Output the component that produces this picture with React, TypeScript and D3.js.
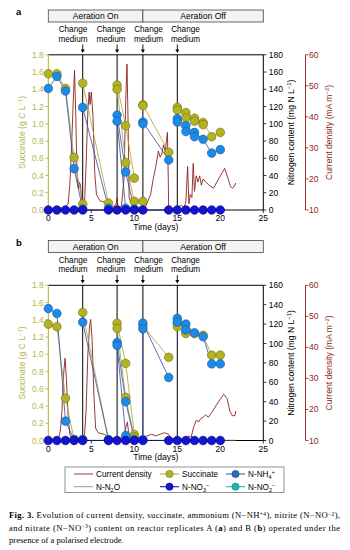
import React from 'react';
import * as d3 from 'd3';

type Pt = [number, number];

const timeTicks = [0, 5, 10, 15, 20, 25];
const succinateTicks = [0, 0.2, 0.4, 0.6, 0.8, 1.0, 1.2, 1.4, 1.6, 1.8];
const nitrogenTicksA = [0, 20, 40, 60, 80, 100, 120, 140, 160, 180];
const nitrogenTicksB = [0, 20, 40, 60, 80, 100, 120, 140, 160];
const currentTicks = [10, 20, 30, 40, 50, 60];
const changeMediumDays = [4, 8, 11, 15];
const aerationBounds = [0, 11, 25];
const aerationLabels = ['Aeration On', 'Aeration Off'];

// Panel a (replicate A)
const succinateA: Pt[][] = [
  [[0, 1.58], [1, 1.58], [2, 1.41], [3, 0.61], [4, 0.07]],
  [[4, 1.47], [7, 0.08]],
  [[8, 1.45], [9, 0.98], [10, 0.37]],
  [[8, 1.40], [9, 0.55], [10, 0.10]],
  [[11, 0.10]],
  [[11, 1.22], [14, 0.67]],
  [[11, 1.21]],
  [[15, 1.19], [16, 1.13], [17, 1.065], [18, 1.015], [19, 0.85], [20, 0.90]],
  [[15, 1.16], [16, 1.07], [17, 1.03], [18, 0.99]],
];
const ammoniumA: Pt[][] = [
  [[0, 141], [1, 155], [2, 138], [3, 48], [4, 1]],
  [[4, 119], [7, 2]],
  [[8, 110], [9, 44], [10, 1]],
  [[8, 103], [9, 2]],
  [[11, 102], [14, 58]],
  [[11, 100]],
  [[15, 106], [16, 98], [17, 90], [18, 82], [19, 66], [20, 70]],
  [[15, 102], [16, 91], [17, 85]],
];
const nitrateA: Pt[] = [
  [0, 0], [1, 0], [2, 0], [3, 0], [4, 0], [7, 0], [8, 0], [9, 0], [10, 0], [11, 0],
  [14, 0], [15, 0], [16, 0], [17, 0], [18, 0], [19, 0], [20, 0],
];
const nitrousA: Pt[] = [[0, 0.3], [4, 0.4], [8, 0.3], [11, 0.2], [15, 0.3], [21.8, 0.4]];
const currentA: Pt[] = [
  [0, 10.3], [0.5, 10.6], [1, 10.9], [1.5, 10.6], [2, 11], [2.3, 12], [2.5, 18], [2.7, 30], [2.9, 45],
  [3.05, 55], [3.2, 40], [3.35, 20], [3.5, 17], [3.6, 19], [3.75, 18], [3.9, 12], [4.0, 10.5],
  [4.2, 11], [4.4, 25], [4.6, 42], [4.75, 48], [4.85, 44], [5.0, 48], [5.2, 40], [5.4, 22],
  [5.6, 15], [6, 13], [6.5, 12.5], [7, 11.5], [7.5, 11], [7.9, 12], [8.0, 14], [8.1, 11],
  [8.5, 11], [8.8, 20], [9.0, 45], [9.15, 57], [9.3, 35], [9.4, 14], [9.7, 11.5], [10, 11],
  [10.5, 11], [11, 10.5], [11.3, 11], [11.6, 13], [11.9, 15], [12.2, 20], [12.5, 24], [12.8, 29],
  [13.0, 27], [13.2, 28], [13.4, 31], [13.6, 29], [13.85, 35], [13.95, 20], [14, 10], [14.5, 10.5],
  [15, 11], [15.5, 11.5], [15.8, 10.5], [16.0, 13], [16.2, 24], [16.35, 12], [16.5, 15], [16.7, 14],
  [16.85, 25], [17.0, 16], [17.2, 21], [17.4, 19], [17.6, 21], [17.8, 18], [18.0, 20], [18.3, 19],
  [18.7, 18], [19.2, 17], [19.8, 20], [20.5, 23.4], [20.8, 21], [21.2, 17.5], [21.4, 17],
  [21.6, 17.5], [21.8, 18.7],
];

// Panel b (replicate B)
const succinateB: Pt[][] = [
  [[0, 1.35], [1, 1.32], [2, 0.49], [3, 0.01], [4, 0.01]],
  [[4, 1.485], [7, 0.01]],
  [[8, 1.36], [9, 0.895], [10, 0.07]],
  [[8, 1.30], [9, 0.50], [10, 0.04]],
  [[11, 1.33], [14, 0.965]],
  [[15, 1.36], [16, 1.26], [17, 1.24], [18, 1.22], [19, 0.99], [20, 0.99]],
  [[15, 1.32], [16, 1.24]],
];
const ammoniumB: Pt[][] = [
  [[0, 136], [1, 131], [2, 20], [3, 1], [4, 1]],
  [[4, 122], [7, 1]],
  [[8, 101], [9, 40], [10, 1]],
  [[8, 98], [9, 5]],
  [[11, 121], [14, 65]],
  [[11, 115], [11, 1]],
  [[15, 126], [16, 120], [17, 111], [18, 107], [19, 79], [20, 79]],
  [[15, 122], [16, 114]],
];
const nitrateB: Pt[] = [
  [0, 0], [1, 0], [2, 0], [3, 0], [4, 0], [7, 0], [8, 0], [9, 0], [10, 0], [11, 0],
  [14, 0], [15, 0], [16, 0], [17, 0], [18, 0], [19, 0], [20, 0],
];
const nitrousB: Pt[] = [[0, 0.3], [4, 0.3], [8, 0.4], [11, 0.3], [15, 0.3], [21.8, 0.3]];
const currentB: Pt[] = [
  [0, 10.2], [0.5, 10.3], [1, 10.5], [1.2, 11], [1.4, 13], [1.6, 20], [1.8, 32], [1.95, 36.5],
  [2.1, 30], [2.3, 18], [2.5, 12], [2.7, 10.5], [3, 10.3], [3.5, 10.5], [4, 10.5], [4.2, 11],
  [4.4, 20], [4.6, 38], [4.8, 47], [4.93, 49], [5.1, 42], [5.3, 25], [5.5, 14], [5.8, 12.5],
  [6.5, 12], [7, 11], [7.5, 10.8], [8, 10.5], [8.5, 10.8], [8.8, 12], [9.0, 14], [9.2, 16],
  [9.35, 12], [9.6, 11], [10, 10.5], [10.5, 11], [11, 10.8], [11.5, 11.5], [12, 12], [12.5, 11.5],
  [13, 12], [13.5, 12.5], [14, 12], [14.3, 10.5], [15, 10.3], [15.5, 10.5], [16, 10.5],
  [16.3, 11.5], [16.6, 11], [16.9, 14.3], [17.2, 16.5], [17.5, 16], [17.7, 17], [18, 17.5],
  [18.3, 18.3], [18.6, 17.5], [19, 19], [19.4, 20.8], [19.8, 22.5], [20.4, 24.9], [20.8, 23.5],
  [21.1, 19.5], [21.4, 18], [21.7, 18], [21.8, 19.5],
];

const SANS = '"Liberation Sans", Arial, sans-serif';
const SERIF = '"Liberation Serif", "Times New Roman", serif';
const OLIVE = '#b3b322';
const OLIVE_TXT = '#b5b54a';
const OLIVE_EDGE = '#6e6e12';
const NH4 = '#1d8ae6';
const NH4_EDGE = '#13579e';
const NO3 = '#1414d4';
const NO3_EDGE = '#00006e';
const NO2 = '#22b4b4';
const CURR = '#8e1f22';
const N2O = '#9a8a8a';

const X0 = 48.3;
const X1 = 263.3;
const TOP = 54.8;
const BOT = 210;
const CUR_X = 305.5;
const R = 4.3;
// horizontal centres of the "Change medium" captions (pixels)
const CHANGE_LABEL_X = [73, 111, 148.5, 185.5];

interface PanelProps {
  dy: number;
  letter: string;
  nMax: number;
  nTicks: number[];
  succ: Pt[][];
  nh4: Pt[][];
  no3: Pt[];
  n2o: Pt[];
  cur: Pt[];
}

function Panel({ dy, letter, nMax, nTicks, succ, nh4, no3, n2o, cur }: PanelProps) {
  const x = d3.scaleLinear().domain([0, 25]).range([X0, X1]);
  const yS = d3.scaleLinear().domain([0, 1.8]).range([BOT, TOP]);
  const yN = d3.scaleLinear().domain([0, nMax]).range([BOT, TOP]);
  const yC = d3.scaleLinear().domain([10, 60]).range([BOT, TOP]);
  const lineS = d3.line<Pt>().x(d => x(d[0])).y(d => yS(d[1]));
  const lineN = d3.line<Pt>().x(d => x(d[0])).y(d => yN(d[1]));
  const lineC = d3.line<Pt>().x(d => x(d[0])).y(d => yC(d[1]));
  const midY = (TOP + BOT) / 2;
  return (
    <g transform={`translate(0,${dy})`}>
      <text x={16} y={15} fontFamily={SANS} fontWeight="bold" fontSize={9.5}>{letter}</text>
      {aerationLabels.map((lab, i) => (
        <g key={lab}>
          <rect x={x(aerationBounds[i])} y={10} width={x(aerationBounds[i + 1]) - x(aerationBounds[i])} height={12}
            fill="#f3f3f3" stroke="#444" strokeWidth={0.8} />
          <text x={(x(aerationBounds[i]) + x(aerationBounds[i + 1])) / 2} y={19.3} textAnchor="middle"
            fontFamily={SANS} fontSize={8.6}>{lab}</text>
        </g>
      ))}
      {changeMediumDays.map((d, i) => (
        <g key={d}>
          <text x={CHANGE_LABEL_X[i]} y={32.3} textAnchor="middle" fontFamily={SANS} fontSize={8.2}>Change</text>
          <text x={CHANGE_LABEL_X[i]} y={41.6} textAnchor="middle" fontFamily={SANS} fontSize={8.2}>medium</text>
          <line x1={x(d)} x2={x(d)} y1={44.5} y2={50} stroke="#000" strokeWidth={0.9} />
          <path d={`M${x(d) - 2},${49.5} L${x(d) + 2},${49.5} L${x(d)},${53} Z`} fill="#000" />
          <line x1={x(d)} x2={x(d)} y1={TOP} y2={BOT} stroke="#000" strokeWidth={1} />
        </g>
      ))}
      {/* frame */}
      <line x1={X0} x2={X1} y1={TOP} y2={TOP} stroke="#000" strokeWidth={1} />
      <line x1={X0} x2={X1} y1={BOT} y2={BOT} stroke="#000" strokeWidth={1} />
      <line x1={X0} x2={X0} y1={TOP} y2={BOT} stroke={OLIVE} strokeWidth={1} />
      <line x1={X1} x2={X1} y1={TOP} y2={BOT} stroke="#000" strokeWidth={1} />
      {/* x axis */}
      {timeTicks.map(t => (
        <g key={t}>
          <line x1={x(t)} x2={x(t)} y1={BOT} y2={BOT + 3} stroke="#000" strokeWidth={0.8} />
          <text x={x(t)} y={BOT + 11} textAnchor="middle" fontFamily={SANS} fontSize={8.5}>{t}</text>
        </g>
      ))}
      <text x={(X0 + X1) / 2} y={BOT + 19.5} textAnchor="middle" fontFamily={SANS} fontSize={8.6}>Time (days)</text>
      {/* left axis */}
      {succinateTicks.map(t => (
        <g key={t}>
          <line x1={X0 - 3} x2={X0} y1={yS(t)} y2={yS(t)} stroke={OLIVE} strokeWidth={0.8} />
          <text x={X0 - 4.5} y={yS(t) + 3} textAnchor="end" fontFamily={SANS} fontSize={8.5} fill={OLIVE_TXT}>{t.toFixed(1)}</text>
        </g>
      ))}
      <text transform={`translate(24.5,${midY}) rotate(-90)`} textAnchor="middle" fontFamily={SANS} fontSize={8.6} fill={OLIVE_TXT}>
        Succinate (g C L<tspan dy={-3} fontSize={6}>−1</tspan><tspan dy={3}>)</tspan>
      </text>
      {/* right nitrogen axis */}
      {nTicks.map(t => (
        <g key={t}>
          <line x1={X1} x2={X1 + 3} y1={yN(t)} y2={yN(t)} stroke="#000" strokeWidth={0.8} />
          <text x={X1 + 5.5} y={yN(t) + 3} fontFamily={SANS} fontSize={8.5}>{t}</text>
        </g>
      ))}
      <text transform={`translate(293.5,${midY}) rotate(-90)`} textAnchor="middle" fontFamily={SANS} fontSize={8.6}>
        Nitrogen content (mg N L<tspan dy={-3} fontSize={6}>−1</tspan><tspan dy={3}>)</tspan>
      </text>
      {/* current axis */}
      <line x1={CUR_X} x2={CUR_X} y1={yC(60)} y2={yC(10)} stroke={CURR} strokeWidth={0.9} />
      {currentTicks.map(t => (
        <g key={t}>
          <line x1={CUR_X} x2={CUR_X + 3} y1={yC(t)} y2={yC(t)} stroke={CURR} strokeWidth={0.8} />
          <text x={CUR_X + 3.5} y={yC(t) + 3} fontFamily={SANS} fontSize={8.5} fill={CURR}>{t}</text>
        </g>
      ))}
      <text transform={`translate(332,${midY}) rotate(-90)`} textAnchor="middle" fontFamily={SANS} fontSize={8.6} fill={CURR}>
        Current density (mA m<tspan dy={-3} fontSize={6}>−2</tspan><tspan dy={3}>)</tspan>
      </text>
      {/* data lines */}
      <path d={lineN(n2o) || ''} fill="none" stroke={N2O} strokeWidth={0.7} />
      <path d={lineC(cur) || ''} fill="none" stroke={CURR} strokeWidth={0.9} strokeLinejoin="round" />
      {succ.map((seg, i) => (
        <path key={'sl' + i} d={lineS(seg) || ''} fill="none" stroke="#a3a335" strokeWidth={0.8} />
      ))}
      {nh4.map((seg, i) => (
        <path key={'nl' + i} d={lineN(seg) || ''} fill="none" stroke="#3548a8" strokeWidth={0.8} />
      ))}
      <path d={lineN(no3) || ''} fill="none" stroke="#10107a" strokeWidth={0.9} />
      {succ.flat().map((p, i) => (
        <circle key={'sc' + i} cx={x(p[0])} cy={yS(p[1])} r={R} fill={OLIVE} stroke={OLIVE_EDGE} strokeWidth={0.6} />
      ))}
      {nh4.flat().map((p, i) => (
        <circle key={'nc' + i} cx={x(p[0])} cy={yN(p[1])} r={R} fill={NH4} stroke={NH4_EDGE} strokeWidth={0.6} />
      ))}
      {no3.map((p, i) => (
        <circle key={'oc' + i} cx={x(p[0])} cy={yN(p[1])} r={R} fill={NO3} stroke={NO3_EDGE} strokeWidth={0.6} />
      ))}
    </g>
  );
}

const legendItems = [
  { label: 'Current density', color: CURR, marker: false, col: 0, row: 0 },
  { label: 'Succinate', color: OLIVE, edge: OLIVE_EDGE, marker: true, col: 1, row: 0 },
  { label: 'N-NH', sub: '4', sup: '+', color: '#2f6db8', edge: '#143f78', marker: true, col: 2, row: 0 },
  { label: 'N-N', sub: '2', after: 'O', color: N2O, marker: false, col: 0, row: 1 },
  { label: 'N-NO', sub: '3', sup: '−', color: NO3, edge: NO3_EDGE, marker: true, col: 1, row: 1 },
  { label: 'N-NO', sub: '2', sup: '−', color: NO2, edge: '#137a7a', marker: true, col: 2, row: 1 },
];
const legendCols = [74, 160, 226];
const legendRows = [474, 486.7];

export default function App() {
  return (
    <svg width={350} height={550} style={{ position: 'absolute', left: 0, top: 0, background: '#fff' }}>
      <rect x={0} y={0} width={350} height={550} fill="#fff" />
      <Panel dy={0} letter="a" nMax={180} nTicks={nitrogenTicksA} succ={succinateA} nh4={ammoniumA} no3={nitrateA} n2o={nitrousA} cur={currentA} />
      <Panel dy={230.5} letter="b" nMax={160} nTicks={nitrogenTicksB} succ={succinateB} nh4={ammoniumB} no3={nitrateB} n2o={nitrousB} cur={currentB} />
      {/* legend */}
      <rect x={65} y={467} width={219} height={25.5} fill="#fff" stroke="#777" strokeWidth={0.8} />
      {legendItems.map((it, i) => {
        const lx = legendCols[it.col];
        const ly = legendRows[it.row];
        return (
          <g key={i}>
            <line x1={lx} x2={lx + 19} y1={ly} y2={ly} stroke={it.color} strokeWidth={it.marker ? 1.1 : 0.9} />
            {it.marker && <circle cx={lx + 9.5} cy={ly} r={3.6} fill={it.color} stroke={it.edge} strokeWidth={0.6} />}
            <text x={lx + 22} y={ly + 3} fontFamily={SANS} fontSize={8.2}>
              {it.label}
              {it.sub && <tspan dy={2} fontSize={5.5}>{it.sub}</tspan>}
              {it.sup && <tspan dy={-5} fontSize={5.5}>{it.sup}</tspan>}
              {it.after && <tspan dy={it.sup ? 3 : -2}>{it.after}</tspan>}
            </text>
          </g>
        );
      })}
      {/* caption */}
      <text x={9} y={518.3} fontFamily={SERIF} fontSize={8.6} textLength={331} lengthAdjust="spacing">
        <tspan fontWeight="bold">Fig. 3.</tspan>{'  Evolution of current density, succinate, ammonium (N−NH'}
        <tspan fontSize={5.5} dy={-2.5}>+</tspan><tspan fontSize={5.5} dy={0}>4</tspan>
        <tspan dy={2.5}>{'), nitrite (N−NO'}</tspan>
        <tspan fontSize={5.5} dy={-2.5}>−</tspan><tspan fontSize={5.5} dy={0}>2</tspan>
        <tspan dy={2.5}>{'),'}</tspan>
      </text>
      <text x={9} y={530.5} fontFamily={SERIF} fontSize={8.6} textLength={331} lengthAdjust="spacing">
        {'and nitrate (N−NO'}
        <tspan fontSize={5.5} dy={-2.5}>−</tspan><tspan fontSize={5.5}>3</tspan>
        <tspan dy={2.5}>{') content on reactor replicates A ('}</tspan>
        <tspan fontWeight="bold">a</tspan>{') and B ('}<tspan fontWeight="bold">b</tspan>{') operated under the'}
      </text>
      <text x={9} y={542.7} fontFamily={SERIF} fontSize={8.6}>presence of a polarised electrode.</text>
    </svg>
  );
}
